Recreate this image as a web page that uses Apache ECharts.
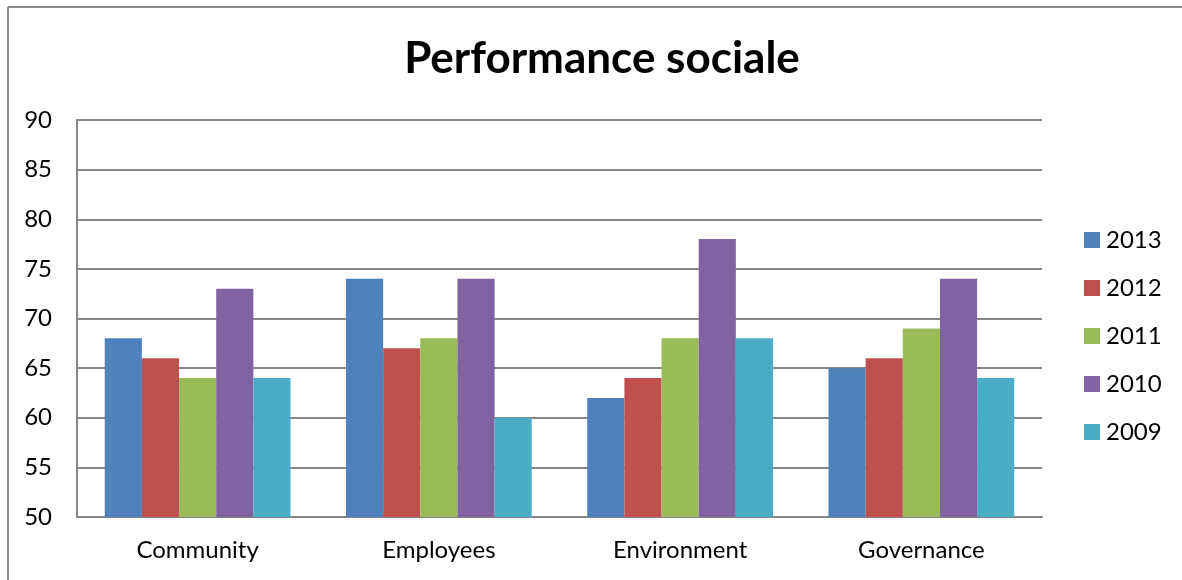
<!DOCTYPE html>
<html>
<head>
<meta charset="utf-8">
<script src="https://cdn.jsdelivr.net/npm/echarts@6/dist/echarts.min.js"></script>
<style>
  html, body { margin: 0; padding: 0; background: #ffffff; }
  #chart { width: 1182px; height: 580px; }
</style>
</head>
<body>
<div id="chart"></div>
<script>
// Social performance scores by theme and year
const categories = ['Community', 'Employees', 'Environment', 'Governance'];
const years = ['2013', '2012', '2011', '2010', '2009'];
const values2013 = [68, 74, 62, 65];
const values2012 = [66, 67, 64, 66];
const values2011 = [64, 68, 68, 69];
const values2010 = [73, 74, 78, 74];
const values2009 = [64, 60, 68, 64];
const yTicks = [50, 55, 60, 65, 70, 75, 80, 85, 90];

const seriesValues = [values2013, values2012, values2011, values2010, values2009];
const colors = ['#4F81BD', '#C0504D', '#9BBB59', '#8064A2', '#4BACC6'];
const font = 'Lato, "Open Sans", sans-serif';

const chart = echarts.init(document.getElementById('chart'), null, { renderer: 'canvas' });

chart.setOption({
  animation: false,
  color: colors,
  title: {
    text: 'Performance sociale',
    left: 597,
    top: 32,
    textAlign: 'center',
    textStyle: { fontFamily: font, fontSize: 44, fontWeight: 'bold', color: '#000000' }
  },
  legend: {
    orient: 'vertical',
    left: 1084,
    top: 228,
    padding: 0,
    itemWidth: 16,
    itemHeight: 16,
    itemGap: 24,
    icon: 'rect',
    data: years,
    textStyle: { fontFamily: font, fontSize: 24, lineHeight: 24, color: '#000000', padding: [0, 0, 0, 1] }
  },
  grid: { left: 77, top: 120, width: 965, height: 397 },
  xAxis: {
    type: 'category',
    data: categories,
    axisLine: { lineStyle: { color: '#868686', width: 2 } },
    axisTick: { show: false },
    axisLabel: { fontFamily: font, fontSize: 24, color: '#000000', margin: 21 }
  },
  yAxis: {
    type: 'value',
    min: yTicks[0],
    max: yTicks[yTicks.length - 1],
    interval: yTicks[1] - yTicks[0],
    axisLine: { show: true, lineStyle: { color: '#868686', width: 2 } },
    axisTick: { show: false },
    splitLine: { lineStyle: { color: '#868686', width: 2 } },
    axisLabel: { fontFamily: font, fontSize: 24, color: '#000000', margin: 25 }
  },
  series: years.map((y, i) => ({
    name: y,
    type: 'bar',
    data: seriesValues[i],
    barGap: '0%',
    barCategoryGap: '23%',
    itemStyle: { color: colors[i] }
  })),
  graphic: [
    { type: 'line', shape: { x1: 8, y1: 7, x2: 1182, y2: 7 }, style: { stroke: '#8c8c8c', lineWidth: 2 } },
    { type: 'line', shape: { x1: 8, y1: 7, x2: 8, y2: 580 }, style: { stroke: '#8c8c8c', lineWidth: 2 } }
  ]
});
</script>
</body>
</html>
